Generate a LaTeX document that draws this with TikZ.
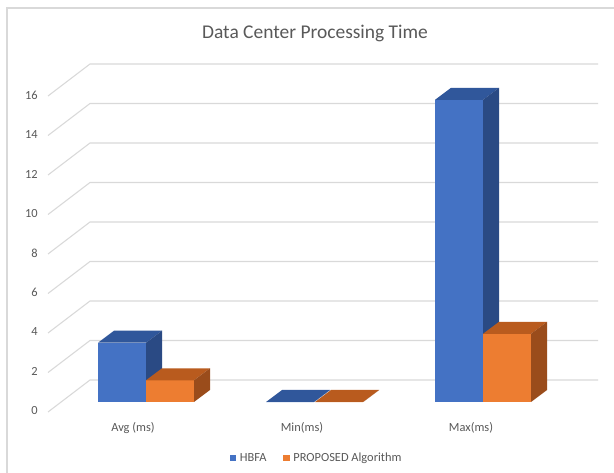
\documentclass[tikz,border=0pt]{standalone}
\usepackage{fontspec}
\setmainfont{Carlito}
\usetikzlibrary{positioning}

\definecolor{txt}{HTML}{595959}
\definecolor{gridc}{HTML}{D9D9D9}
\definecolor{hbfaF}{HTML}{4472C4}
\definecolor{hbfaT}{HTML}{30579B}
\definecolor{hbfaS}{HTML}{2A4A84}
\definecolor{propF}{HTML}{ED7D31}
\definecolor{propT}{HTML}{B95B1E}
\definecolor{propS}{HTML}{9A4C1B}

\tikzset{
  gridln/.style={draw=gridc, line width=0.8pt},
  ticklbl/.style={text=txt, font=\fontsize{9.3}{11}\selectfont, inner sep=0pt},
  catlbl/.style={text=txt, font=\fontsize{9.3}{11}\selectfont, inner sep=0pt},
  legbox/.style={rectangle, inner sep=0pt, minimum size=5.2pt},
}

\begin{document}
\begin{tikzpicture}[x=0.75pt, y=-0.75pt]
        \useasboundingbox (0,0) rectangle (614,473);
        \fill[white] (0,0) rectangle (614,473);
        \draw[gridc, line width=0.8pt] (7,473) -- (7,8) -- (614,8);

        \node[text=txt, font=\fontsize{14.6}{17}\selectfont] (title) at (315,33) {Data Center Processing Time};

        % floor and back wall lines, one per tick
        \foreach \v in {0,2,...,16} {
            \pgfmathsetmacro{\yb}{380-19.75*\v}
            \draw[gridln] (48,\yb+32) -- (90,\yb) -- (598,\yb);
            \node[ticklbl, anchor=east] (t\v) at (38,\yb+31) {\v};
        }

        % bars: front left x / value / front, top, side colours
        \foreach \x/\v/\f/\t/\s in {98/3.0/hbfaF/hbfaT/hbfaS, 146/1.1/propF/propT/propS,
                                    266/0/hbfaF/hbfaT/hbfaS, 315/0/propF/propT/propS,
                                    435/15.3/hbfaF/hbfaT/hbfaS, 483/3.45/propF/propT/propS} {
            \pgfmathsetmacro{\h}{19.75*\v}
            \fill[\f] (\x,402) rectangle ++(48,-\h);
            \fill[\t] (\x,402-\h) -- ++(16,-12) -- ++(48,0) -- ++(-16,12) -- cycle;
            \fill[\s] (\x+48,402) -- ++(0,-\h) -- ++(16,-12) -- ++(0,\h) -- cycle;
        }

        \node[catlbl] (avg) at (133,428) {Avg (ms)};
        \node[catlbl] (min) at (302,428) {Min(ms)};
        \node[catlbl] (max) at (471,428) {Max(ms)};

        \node[legbox, fill=hbfaF] (k1) at (233,458) {};
        \node[catlbl, right=2.2pt of k1] (l1) {HBFA};
        \node[legbox, fill=propF] (k2) at (286.5,458) {};
        \node[catlbl, right=2.2pt of k2] (l2) {PROPOSED Algorithm};
\end{tikzpicture}
\end{document}
